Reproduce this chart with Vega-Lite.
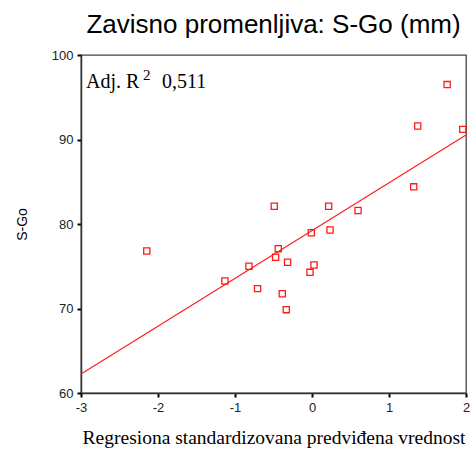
{
  "$schema": "https://vega.github.io/schema/vega-lite/v6.json",
  "autosize": "none",
  "width": 385,
  "height": 338,
  "padding": {"left": 81, "top": 55, "right": 5, "bottom": 56},
  "background": "white",
  "title": {
    "text": "Zavisno promenljiva: S-Go (mm)",
    "font": "Liberation Sans",
    "fontSize": 26,
    "fontWeight": "normal",
    "color": "#000000",
    "anchor": "middle",
    "offset": 11
  },
  "config": {
    "view": {"stroke": "#444444", "strokeWidth": 1.3},
    "axis": {
      "grid": false,
      "domainColor": "#333333",
      "domainWidth": 1.5,
      "tickColor": "#000000",
      "tickWidth": 2,
      "tickSize": 4,
      "labelFont": "Liberation Sans",
      "labelFontSize": 13,
      "labelColor": "#222222",
      "titleFontWeight": "normal",
      "titleColor": "#000000"
    }
  },
  "layer": [
    {
      "data": {"values": [
        {"pred": -2.146, "sgo": 76.8},
        {"pred": -1.131, "sgo": 73.25},
        {"pred": -0.819, "sgo": 75.0},
        {"pred": -0.707, "sgo": 72.35},
        {"pred": -0.49, "sgo": 82.1},
        {"pred": 0.216, "sgo": 82.1},
        {"pred": 0.598, "sgo": 81.6},
        {"pred": -0.009, "sgo": 78.97},
        {"pred": 0.234, "sgo": 79.29},
        {"pred": -0.438, "sgo": 77.08},
        {"pred": -0.473, "sgo": 76.06},
        {"pred": -0.317, "sgo": 75.47},
        {"pred": 0.026, "sgo": 75.15},
        {"pred": -0.026, "sgo": 74.28},
        {"pred": -0.386, "sgo": 71.75},
        {"pred": -0.334, "sgo": 69.86},
        {"pred": 1.321, "sgo": 84.4},
        {"pred": 1.373, "sgo": 91.6},
        {"pred": 1.958, "sgo": 91.2},
        {"pred": 1.755, "sgo": 96.5}
      ]},
      "mark": {"type": "point", "shape": "square", "filled": false, "color": "#ff1a1a", "size": 38, "strokeWidth": 1.3, "opacity": 1},
      "encoding": {
        "x": {
          "field": "pred", "type": "quantitative",
          "scale": {"domain": [-3, 2], "nice": false, "zero": false},
          "axis": {
            "values": [-3, -2, -1, 0, 1, 2],
            "labelExpr": "'' + datum.value",
            "title": "Regresiona standardizovana predviđena vrednost",
            "titleFont": "Liberation Serif",
            "titleFontSize": 19.5,
            "titlePadding": 14,
            "labelPadding": 4,
            "labelFlush": false
          }
        },
        "y": {
          "field": "sgo", "type": "quantitative",
          "scale": {"domain": [60, 100], "nice": false, "zero": false},
          "axis": {
            "values": [60, 70, 80, 90, 100],
            "title": "S-Go",
            "titleFont": "Liberation Sans",
            "titleFontSize": 14,
            "titlePadding": 22,
            "labelPadding": 4
          }
        }
      }
    },
    {
      "data": {"values": [
        {"pred": -3, "fit": 62.25},
        {"pred": 2, "fit": 90.53}
      ]},
      "mark": {"type": "line", "color": "#ff1a1a", "strokeWidth": 1.1},
      "encoding": {
        "x": {"field": "pred", "type": "quantitative"},
        "y": {"field": "fit", "type": "quantitative"}
      }
    },
    {
      "data": {"values": [{"px": -2.935, "py": 96.06, "label": "Adj. R"}]},
      "mark": {"type": "text", "font": "Liberation Serif", "fontSize": 20, "align": "left", "baseline": "alphabetic", "color": "#000000"},
      "encoding": {
        "x": {"field": "px", "type": "quantitative"},
        "y": {"field": "py", "type": "quantitative"},
        "text": {"field": "label"}
      }
    },
    {
      "data": {"values": [{"px": -2.194, "py": 97.1, "label": "2"}]},
      "mark": {"type": "text", "font": "Liberation Serif", "fontSize": 15, "align": "left", "baseline": "alphabetic", "color": "#000000"},
      "encoding": {
        "x": {"field": "px", "type": "quantitative"},
        "y": {"field": "py", "type": "quantitative"},
        "text": {"field": "label"}
      }
    },
    {
      "data": {"values": [{"px": -1.947, "py": 96.06, "label": "0,511"}]},
      "mark": {"type": "text", "font": "Liberation Serif", "fontSize": 20, "align": "left", "baseline": "alphabetic", "color": "#000000"},
      "encoding": {
        "x": {"field": "px", "type": "quantitative"},
        "y": {"field": "py", "type": "quantitative"},
        "text": {"field": "label"}
      }
    }
  ]
}
